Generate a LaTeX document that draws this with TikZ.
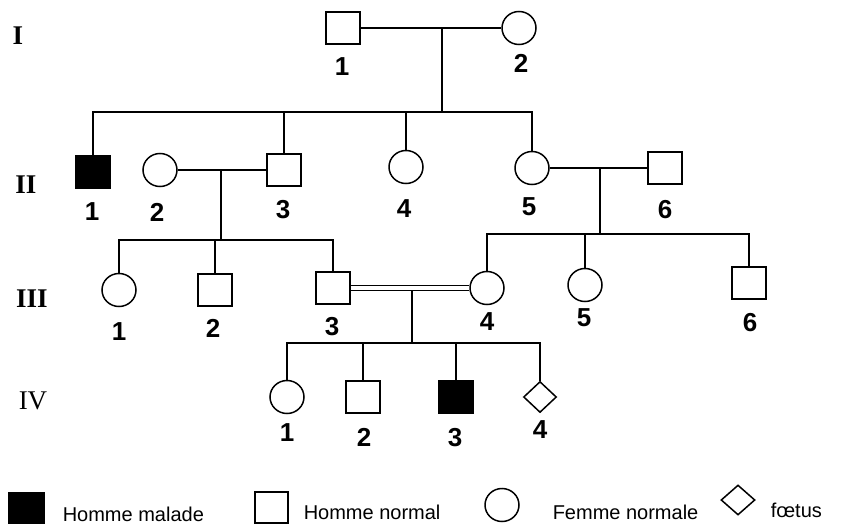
\documentclass[tikz,border=0pt]{standalone}
\usepackage{fontspec}
\setmainfont{Liberation Sans}
\newfontfamily\genfont{Liberation Serif}
\usetikzlibrary{shapes.geometric}
\begin{document}
\begin{tikzpicture}[x=1pt,y=-1pt,
  line width=1.5pt,
  male/.style={draw, rectangle, minimum width=34pt, minimum height=32pt, inner sep=0pt},
  ill/.style={male, fill=black},
  female/.style={draw, ellipse, minimum width=34pt, minimum height=33pt, inner sep=0pt},
  fetus/.style={draw, diamond, minimum width=33pt, minimum height=31pt, inner sep=0pt},
  num/.style={font=\fontsize{26}{26}\selectfont\bfseries, inner sep=0pt},
  gen/.style={font=\genfont\fontsize{27}{27}\selectfont\bfseries, inner sep=0pt},
  genr/.style={font=\genfont\fontsize{27}{27}\selectfont, inner sep=0pt},
  leg/.style={font=\fontsize{20}{20}\selectfont, inner sep=0pt, anchor=base west}]
\useasboundingbox (0,0) rectangle (841,524);

% generation labels
\node[gen] (gI) at (18,36) {I};
\node[gen] (gII) at (26,185) {II};
\node[gen] (gIII) at (32,299) {III};
\node[genr] (gIV) at (33,401) {IV};

% generation I
\node[male] (I1) at (343,28) {};
\node[female] (I2) at (519,28) {};
\node[num] (lI1) at (342,67) {1};
\node[num] (lI2) at (521,63) {2};

% generation II
\node[ill] (II1) at (93,172) {};
\node[female] (II2) at (160,170) {};
\node[male] (II3) at (284,170) {};
\node[female] (II4) at (406,167) {};
\node[female] (II5) at (532,168) {};
\node[male] (II6) at (665,168) {};
\node[num] (lII1) at (92,212) {1};
\node[num] (lII2) at (157,212) {2};
\node[num] (lII3) at (283,210) {3};
\node[num] (lII4) at (404,209) {4};
\node[num] (lII5) at (529,207) {5};
\node[num] (lII6) at (665,210) {6};

% generation III
\node[female] (III1) at (119,290) {};
\node[male] (III2) at (215,290) {};
\node[male] (III3) at (333,288) {};
\node[female] (III4) at (487,288) {};
\node[female] (III5) at (585,285) {};
\node[male] (III6) at (749,283) {};
\node[num] (lIII1) at (119,332) {1};
\node[num] (lIII2) at (213,328) {2};
\node[num] (lIII3) at (332,327) {3};
\node[num] (lIII4) at (487,322) {4};
\node[num] (lIII5) at (584,318) {5};
\node[num] (lIII6) at (750,323) {6};

% generation IV
\node[female] (IV1) at (287,397) {};
\node[male] (IV2) at (363,397) {};
\node[ill] (IV3) at (456,397) {};
\node[fetus] (IV4) at (540,397) {};
\node[num] (lIV1) at (287,433) {1};
\node[num] (lIV2) at (364,437) {2};
\node[num] (lIV3) at (455,438) {3};
\node[num] (lIV4) at (540,430) {4};

% connectors
\coordinate (m1) at (442,28);
\coordinate (s1) at (442,112);
\draw (I1) -- (I2);
\draw (m1) -- (s1);
\draw (II1.north) |- (s1) -| (II5.north);
\draw (II3.north) -- (II3.north |- s1);
\draw (II4.north) -- (II4.north |- s1);

\coordinate (m2) at (221,170);
\coordinate (s2) at (221,240);
\draw (II2) -- (II3);
\draw (m2) -- (s2);
\draw (III1.north) |- (s2) -| (III3.north);
\draw (III2.north) -- (III2.north |- s2);

\coordinate (m3) at (600,168);
\coordinate (s3) at (600,234);
\draw (II5) -- (II6);
\draw (m3) -- (s3);
\draw (III4.north) |- (s3) -| (III6.north);
\draw (III5.north) -- (III5.north |- s3);

\draw ([yshift=2.5pt]III3.east) -- ([yshift=2.5pt]III4.west);
\draw ([yshift=-2.5pt]III3.east) -- ([yshift=-2.5pt]III4.west);
\coordinate (m4) at (412,290.5);
\coordinate (s4) at (412,343);
\draw (m4) -- (s4);
\draw (IV1.north) |- (s4) -| (IV4.north);
\draw (IV2.north) -- (IV2.north |- s4);
\draw (IV3.north) -- (IV3.north |- s4);

% legend
\node[ill, minimum width=36pt, minimum height=31pt] (k1) at (26.5,508.5) {};
\node[leg] (t1) at (62,521) {Homme malade};
\node[male, minimum width=33pt, minimum height=31pt] (k2) at (271.5,507.5) {};
\node[leg] (t2) at (303,519) {Homme normal};
\node[female] (k3) at (502,505) {};
\node[leg] (t3) at (552,519) {Femme normale};
\node[fetus, minimum width=34pt, minimum height=30pt] (k4) at (738,500) {};
\node[leg] (t4) at (770,517) {fœtus};
\end{tikzpicture}
\end{document}
